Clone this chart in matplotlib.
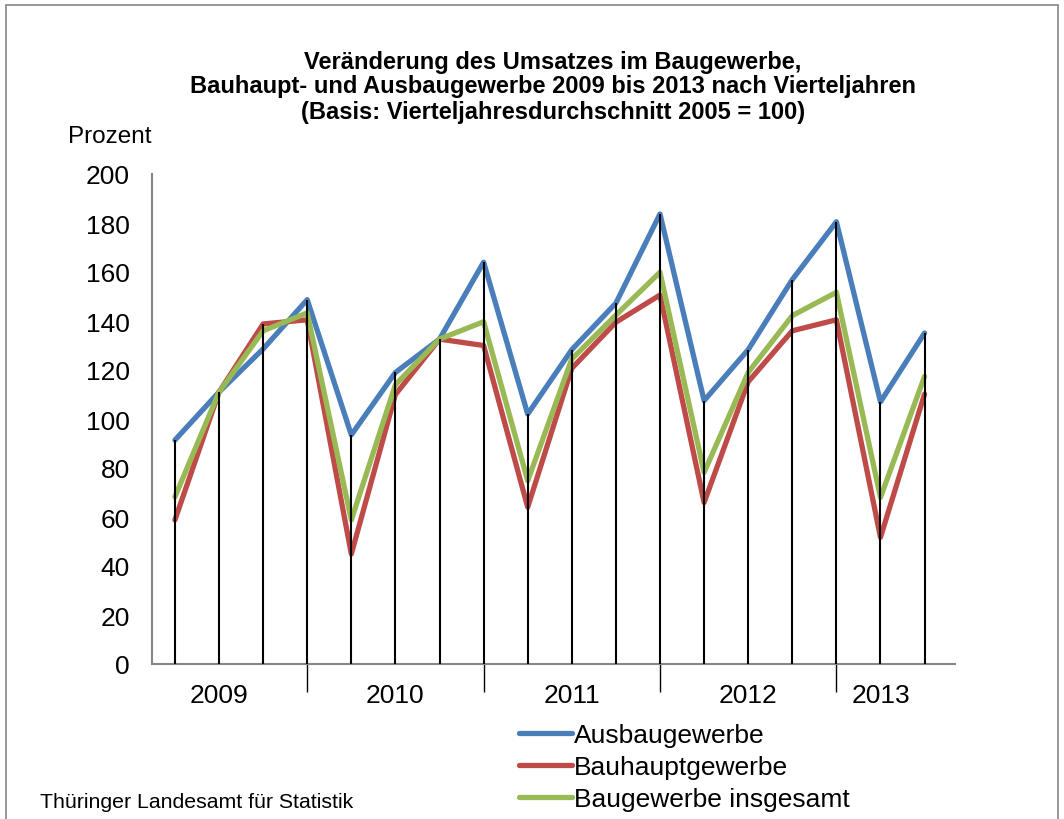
import matplotlib
matplotlib.use("Agg")
import matplotlib.pyplot as plt
from matplotlib.patches import Rectangle
import numpy as np

plt.rcParams['font.family'] = ['Liberation Sans', 'DejaVu Sans']

quarters = ["2009 Q1", "2009 Q2", "2009 Q3", "2009 Q4",
            "2010 Q1", "2010 Q2", "2010 Q3", "2010 Q4",
            "2011 Q1", "2011 Q2", "2011 Q3", "2011 Q4",
            "2012 Q1", "2012 Q2", "2012 Q3", "2012 Q4",
            "2013 Q1", "2013 Q2"]
ausbau = [91.4, 111, 128.6, 148.7, 93.5, 119, 132.6, 164, 102, 128.3,
          147.3, 183.7, 107.5, 128.3, 156.9, 180.5, 107, 135.1]
bauhaupt = [58.8, 111, 138.8, 140.5, 44.9, 110, 132.6, 130, 64, 120.7,
            139.5, 150.6, 65.9, 115.2, 136, 140.5, 51.7, 110.2]
insgesamt = [68.2, 111, 136, 143.3, 58.8, 114, 132.6, 139.7, 74.8, 124.5,
             142.4, 159.9, 78.2, 119, 142.2, 151.7, 68, 117.4]
year_labels = ["2009", "2010", "2011", "2012", "2013"]
year_label_pos = [1, 5, 9, 13, 16]
year_sep_pos = [3, 7, 11, 15]
yticks = list(range(0, 201, 20))

W, H = 1064, 820
fig = plt.figure(figsize=(W / 100, H / 100), dpi=100)
ax = fig.add_axes([152 / W, 1 - 665 / H, (955 - 152) / W, (665 - 175) / H])

x = np.arange(len(quarters))
c_blue, c_red, c_green = "#4A7EBB", "#BE4B48", "#98B954"
ax.plot(x, ausbau, color=c_blue, lw=3.8, label="Ausbaugewerbe", zorder=3,
        solid_joinstyle='round', solid_capstyle='round')
ax.plot(x, bauhaupt, color=c_red, lw=3.8, label="Bauhauptgewerbe", zorder=3,
        solid_joinstyle='round', solid_capstyle='round')
ax.plot(x, insgesamt, color=c_green, lw=3.8, label="Baugewerbe insgesamt", zorder=3,
        solid_joinstyle='round', solid_capstyle='round')

tops = np.maximum(np.maximum(ausbau, bauhaupt), insgesamt)
ax.vlines(x, 0, tops, color="black", lw=1.5, zorder=4)

ax.set_xlim(-0.52, 17.69)
ax.set_ylim(0, 200)
ax.set_yticks(yticks)
ax.tick_params(axis='y', length=0, labelsize=19, pad=16)

ax.set_xticks(year_sep_pos)
ax.set_xticklabels([""] * len(year_sep_pos))
ax.tick_params(axis='x', which='major', length=20, width=1, color='black', direction='out')
ax.set_xticks(year_label_pos, minor=True)
ax.set_xticklabels(year_labels, minor=True)
ax.tick_params(axis='x', which='minor', length=0, labelsize=19, pad=14)

for s in ['top', 'right']:
    ax.spines[s].set_visible(False)
for s in ['left', 'bottom']:
    ax.spines[s].set_color('#868686')
    ax.spines[s].set_linewidth(1.5)

title_lines = ["Veränderung des Umsatzes im Baugewerbe,",
               "Bauhaupt- und Ausbaugewerbe 2009 bis 2013 nach Vierteljahren",
               "(Basis: Vierteljahresdurchschnitt 2005 = 100)"]
for i, t in enumerate(title_lines):
    fig.text(553 / W, 1 - (62 + 25 * i) / H, t,
             ha='center', va='center', fontsize=17, fontweight='bold')
fig.text(110 / W, 1 - 137 / H, "Prozent", ha='center', va='center', fontsize=17.5)

fig.text(40 / W, 1 - 803 / H, "Thüringer Landesamt für Statistik",
         ha='left', va='center', fontsize=15.3)

leg = fig.legend(loc='center left', bbox_to_anchor=(519 / W, 1 - 768 / H),
                 frameon=False, fontsize=19, handlelength=2.0,
                 handletextpad=0.08, labelspacing=0.3, borderaxespad=0,
                 borderpad=0)

fig.patches.append(Rectangle((6 / W, -0.1), (1058 - 6) / W, 1.1 - 6 / H,
                             transform=fig.transFigure, fill=False,
                             edgecolor='#868686', lw=1.2))

fig.savefig("out.png", dpi=100)
